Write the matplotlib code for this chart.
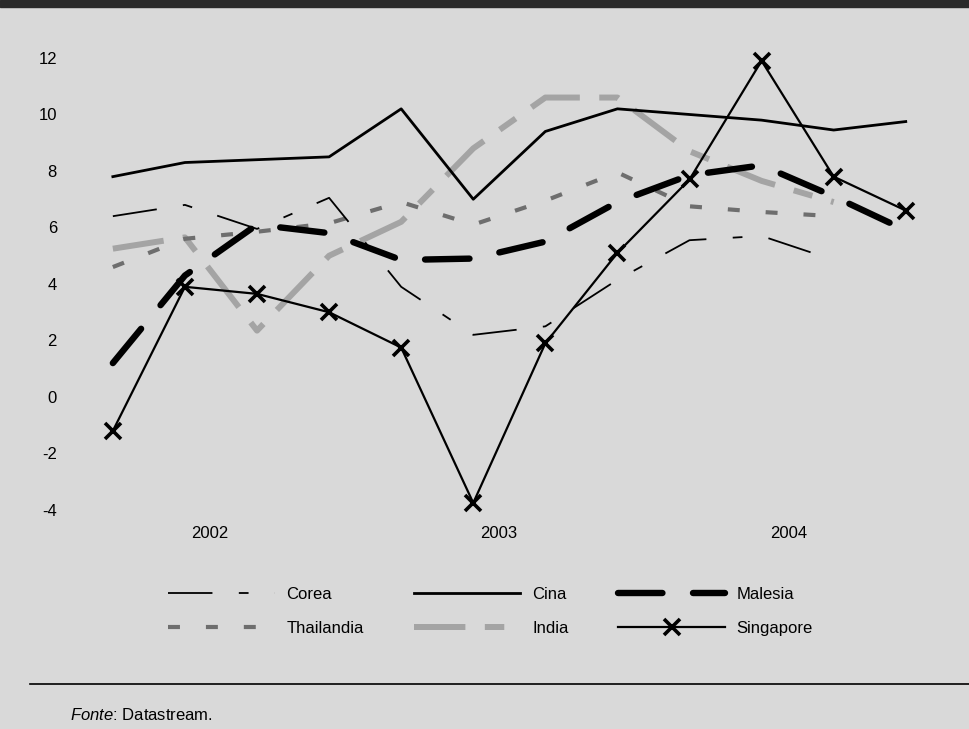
import matplotlib
matplotlib.use("Agg")
import matplotlib.pyplot as plt
from matplotlib.lines import Line2D
from matplotlib.patches import Rectangle
import numpy as np

# quarterly growth rates, 2002 Q1 .. 2004 Q4
quarters = np.arange(12)
years = ["2002", "2003", "2004"]
year_pos = [1.35, 5.35, 9.38]
yticks = [-4, -2, 0, 2, 4, 6, 8, 10, 12]

corea = [6.4, 6.8, 5.95, 7.05, 3.9, 2.2, 2.5, 4.15, 5.55, 5.7, 4.85, np.nan]
thailandia = [4.6, 5.6, 5.85, 6.15, 6.9, 6.1, 6.95, 7.95, 6.75, 6.55, 6.4, np.nan]
cina = [7.8, 8.3, 8.4, 8.5, 10.2, 7.0, 9.4, 10.2, 10.0, 9.8, 9.45, 9.75]
india = [5.25, 5.65, 2.35, 5.0, 6.2, 8.8, 10.6, 10.6, 8.7, 7.65, 6.9, np.nan]
malesia = [1.2, 4.3, 6.1, 5.8, 4.85, 4.9, 5.5, 6.9, 7.85, 8.2, 7.1, 5.9]
singapore = [-1.2, 3.9, 3.65, 3.0, 1.75, -3.75, 1.9, 5.1, 7.7, 11.9, 7.8, 6.6]

plt.rcParams['font.family'] = ['Liberation Sans', 'DejaVu Sans']
plt.rcParams['font.size'] = 12
plt.rcParams['axes.unicode_minus'] = False
plt.rcParams['lines.scale_dashes'] = False
plt.rcParams['mathtext.fontset'] = 'custom'
plt.rcParams['mathtext.it'] = 'Liberation Sans:italic'
plt.rcParams['mathtext.rm'] = 'Liberation Sans'

bg = '#d9d9d9'
fig = plt.figure(figsize=(9.7, 7.29), dpi=100, facecolor=bg)
ax = fig.add_axes([66 / 970, 0.2888, 883 / 970, 0.6704])
ax.set_facecolor('none')

ax.plot(quarters, india, color='#a4a4a4', lw=4.3, linestyle=(0, (37, 14, 14, 14)),
        label='India', zorder=2)
ax.plot(quarters, thailandia, color='#6e6e6e', lw=3.0, linestyle=(0, (8.6, 18.7)),
        label='Thailandia', zorder=2)
ax.plot(quarters, corea, color='black', lw=1.3, linestyle=(0, (32, 19, 7, 19)),
        label='Corea', zorder=3)
ax.plot(quarters, cina, color='black', lw=2.0, label='Cina', zorder=3)
ax.plot(quarters, malesia, color='black', lw=4.6, linestyle=(0, (32, 22)),
        dash_capstyle='round', label='Malesia', zorder=4)
ax.plot(quarters, singapore, color='black', lw=1.6, marker='x', markersize=11,
        markeredgewidth=2.6, label='Singapore', zorder=5)

ax.set_xlim(-0.65, 11.6)
ax.set_ylim(-4.3, 13)
ax.set_yticks(yticks)
ax.set_yticklabels([str(v) for v in yticks])
ax.set_xticks(year_pos)
ax.set_xticklabels(years)
ax.tick_params(length=0)
ax.tick_params(axis='y', pad=6.5)
ax.tick_params(axis='x', pad=5.4)
for s in ax.spines.values():
    s.set_visible(False)

# legend: Corea/Thailandia, Cina/India, Malesia/Singapore
h, l = ax.get_legend_handles_labels()
order = ['Corea', 'Thailandia', 'Cina', 'India', 'Malesia', 'Singapore']
hmap = dict(zip(l, h))
fig.legend([hmap[k] for k in order], order, ncol=3, frameon=False,
           loc='upper left', bbox_to_anchor=(168 / 970, 1 - 587 / 729),
           borderpad=0, borderaxespad=0, handlelength=6.4, handletextpad=0.7,
           columnspacing=3.0, labelspacing=1.13, numpoints=1, fontsize=12)

# dark band at top, rule and source note
fig.add_artist(Rectangle((0, 1 - 7 / 729), 1, 7 / 729, transform=fig.transFigure,
                         color='#2a2a2a', zorder=0))
fig.add_artist(Line2D([30 / 970, 1], [1 - 684 / 729] * 2, transform=fig.transFigure,
                      color='black', lw=1.2))
fig.text(70 / 970, 1 - 715 / 729, r'$\it{Fonte}$: Datastream.', va='center',
         ha='left', fontsize=12)

fig.savefig('out.png', dpi=100, facecolor=bg)
